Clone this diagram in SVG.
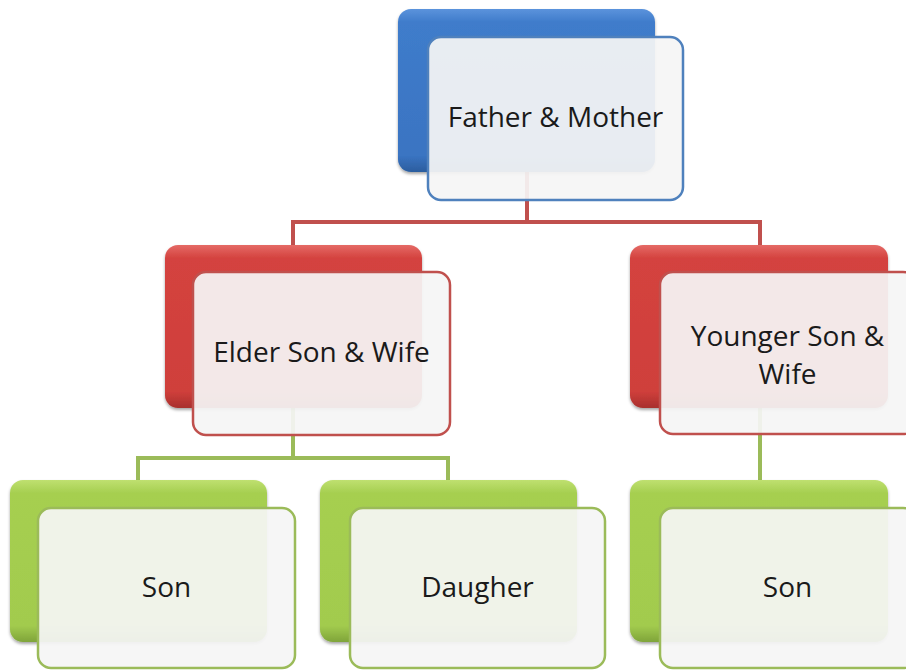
<svg xmlns="http://www.w3.org/2000/svg" width="906" height="670" viewBox="0 0 906 670">
<style>
.front{stroke-width:2.5}
.lbl{font-family:"Open Sans","Liberation Sans",sans-serif;font-size:28px;fill:#1a1a1a;text-anchor:middle}
.conn{fill:none;stroke-width:4;stroke-linejoin:miter}
</style>
<defs>
<linearGradient id="gBlue" x1="0" y1="0" x2="0" y2="1">
<stop offset="0" stop-color="#5b93dc"/><stop offset="0.08" stop-color="#3f7ccb"/><stop offset="0.9" stop-color="#3a74c2"/><stop offset="1" stop-color="#2b5d9e"/>
</linearGradient>
<linearGradient id="gRed" x1="0" y1="0" x2="0" y2="1">
<stop offset="0" stop-color="#e56a66"/><stop offset="0.08" stop-color="#d4433f"/><stop offset="0.9" stop-color="#cf3f3b"/><stop offset="1" stop-color="#a8302d"/>
</linearGradient>
<linearGradient id="gGreen" x1="0" y1="0" x2="0" y2="1">
<stop offset="0" stop-color="#bfe070"/><stop offset="0.08" stop-color="#a6cf50"/><stop offset="0.9" stop-color="#a2cb4e"/><stop offset="1" stop-color="#7fa43a"/>
</linearGradient>
<filter id="sh" x="-5%" y="-5%" width="110%" height="115%">
<feDropShadow dx="0" dy="2" stdDeviation="1.5" flood-color="#000" flood-opacity="0.35"/>
</filter>
</defs>
<rect width="906" height="670" fill="#ffffff"/>
<g id="connectors">
<path class="conn" stroke="#c0504d" d="M527,172 V222 H293 V245 M527,222 H760 V245"/>
<path class="conn" stroke="#9bbb59" d="M293,408 V458 H138 V480 M293,458 H448 V480"/>
<path class="conn" stroke="#9bbb59" d="M760,408 V480"/>
</g>
<g id="node-father-mother">
<rect x="398" y="9" width="257" height="163" rx="13" fill="url(#gBlue)" filter="url(#sh)"/>
<rect class="front" x="428" y="37" width="255" height="163" rx="13" fill="#f5f5f5" fill-opacity="0.93" stroke="#4f81bd"/>
<text class="lbl" x="555.5" y="127">Father &amp; Mother</text>
</g>
<g id="node-elder">
<rect x="165" y="245" width="257" height="163" rx="13" fill="url(#gRed)" filter="url(#sh)"/>
<rect class="front" x="193" y="272" width="257" height="163" rx="13" fill="#f5f5f5" fill-opacity="0.93" stroke="#c0504d"/>
<text class="lbl" x="321.5" y="362">Elder Son &amp; Wife</text>
</g>
<g id="node-younger">
<rect x="630" y="245" width="258" height="163" rx="13" fill="url(#gRed)" filter="url(#sh)"/>
<rect class="front" x="660" y="272" width="256" height="162" rx="13" fill="#f5f5f5" fill-opacity="0.93" stroke="#c0504d"/>
<text class="lbl" x="787.5" y="346">Younger Son &amp;</text>
<text class="lbl" x="787.5" y="384">Wife</text>
</g>
<g id="node-son-left">
<rect x="10" y="480" width="257" height="162" rx="13" fill="url(#gGreen)" filter="url(#sh)"/>
<rect class="front" x="38" y="508" width="257" height="160" rx="13" fill="#f5f5f5" fill-opacity="0.93" stroke="#9bbb59"/>
<text class="lbl" x="166.5" y="597">Son</text>
</g>
<g id="node-daughter">
<rect x="320" y="480" width="257" height="162" rx="13" fill="url(#gGreen)" filter="url(#sh)"/>
<rect class="front" x="350" y="508" width="255" height="160" rx="13" fill="#f5f5f5" fill-opacity="0.93" stroke="#9bbb59"/>
<text class="lbl" x="477.5" y="597">Daugher</text>
</g>
<g id="node-son-right">
<rect x="630" y="480" width="258" height="162" rx="13" fill="url(#gGreen)" filter="url(#sh)"/>
<rect class="front" x="660" y="508" width="256" height="160" rx="13" fill="#f5f5f5" fill-opacity="0.93" stroke="#9bbb59"/>
<text class="lbl" x="787.5" y="597">Son</text>
</g>
</svg>
